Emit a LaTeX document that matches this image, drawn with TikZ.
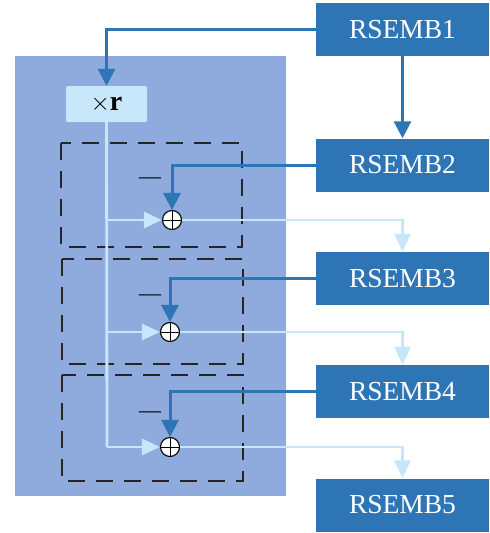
\documentclass[tikz,border=0pt]{standalone}
\usepackage{fontspec}
\setmainfont{Liberation Serif}
\usetikzlibrary{arrows.meta}
\definecolor{dkblue}{HTML}{2E75B6}
\definecolor{panelc}{HTML}{8FAADC}
\definecolor{ltbox}{HTML}{C8E7FA}
\definecolor{ltline}{HTML}{C5E6FB}
\tikzset{
  rsbox/.style={draw=none, fill=dkblue, text=white, minimum width=173pt, minimum height=53pt, inner sep=0pt, font=\fontsize{27.5}{30}\selectfont},
  xrbox/.style={fill=ltbox, rounded corners=1.5pt, minimum width=81pt, minimum height=36pt, inner sep=0pt, font=\fontsize{28}{30}\selectfont},
  groupbox/.style={draw=black!85, line width=1.4pt, dash pattern=on 17pt off 11pt},
  plusnode/.style={circle, draw=black, line width=1.1pt, fill=white, minimum size=19pt, inner sep=0pt,
    path picture={\draw[line width=0.9pt] (path picture bounding box.north) -- (path picture bounding box.south)
      (path picture bounding box.west) -- (path picture bounding box.east);}},
  minusnode/.style={inner sep=0pt, font=\fontsize{22}{24}\selectfont},
  darkarrow/.style={draw=dkblue, line width=3pt, -{Triangle[width=17pt,length=17pt]}},
  lightarrow/.style={draw=ltline, line width=2.8pt, -{Triangle[width=16pt,length=18pt]}},
  lightline/.style={draw=ltline, line width=2.8pt},
}
\begin{document}
\begin{tikzpicture}[x=1pt,y=-1pt]
\useasboundingbox (0,0) rectangle (490,533);
% panel
\fill[panelc] (15,56) rectangle (286,496);
% dashed groups
\draw[groupbox] (61,143) rectangle (242,247);
\draw[groupbox] (62,259) rectangle (243,364);
\draw[groupbox] (62,375) rectangle (243,481);
% right boxes
\node[rsbox] (r1) at (402.5,29.5) {RSEMB1};
\node[rsbox] (r2) at (402.5,165) {RSEMB2};
\node[rsbox] (r3) at (402.5,278.5) {RSEMB3};
\node[rsbox] (r4) at (402.5,391.5) {RSEMB4};
\node[rsbox] (r5) at (402.5,505) {RSEMB5};
% xr box
\node[xrbox] (xr) at (106.5,104) {$\times$\textbf{r}};
% plus nodes
\node[plusnode] (p1) at (172,220) {};
\node[plusnode] (p2) at (170,332) {};
\node[plusnode] (p3) at (170,447) {};
% minus signs
\node[minusnode] (m1) at (150,181) {—};
\node[minusnode] (m2) at (150,298) {—};
\node[minusnode] (m3) at (150,415) {—};
% light connectors
\coordinate (v1) at (107,220);
\coordinate (v2) at (107,332);
\coordinate (v3) at (107,447);
\draw[lightline] (xr.south) -- (v3);
\draw[lightarrow] (v1) -- (p1.west);
\draw[lightarrow] (v2) -- (p2.west);
\draw[lightarrow] (v3) -- (p3.west);
\draw[lightarrow] (p1.east) -| (r3.north);
\draw[lightarrow] (p2.east) -| (r4.north);
\draw[lightarrow] (p3.east) -| (r5.north);
% dark connectors
\draw[darkarrow] (r1.west) -| (xr.north);
\draw[darkarrow] (r1.south) -- (r2.north);
\draw[darkarrow] (r2.west) -| (p1.north);
\draw[darkarrow] (r3.west) -| (p2.north);
\draw[darkarrow] (r4.west) -| (p3.north);
\end{tikzpicture}
\end{document}
